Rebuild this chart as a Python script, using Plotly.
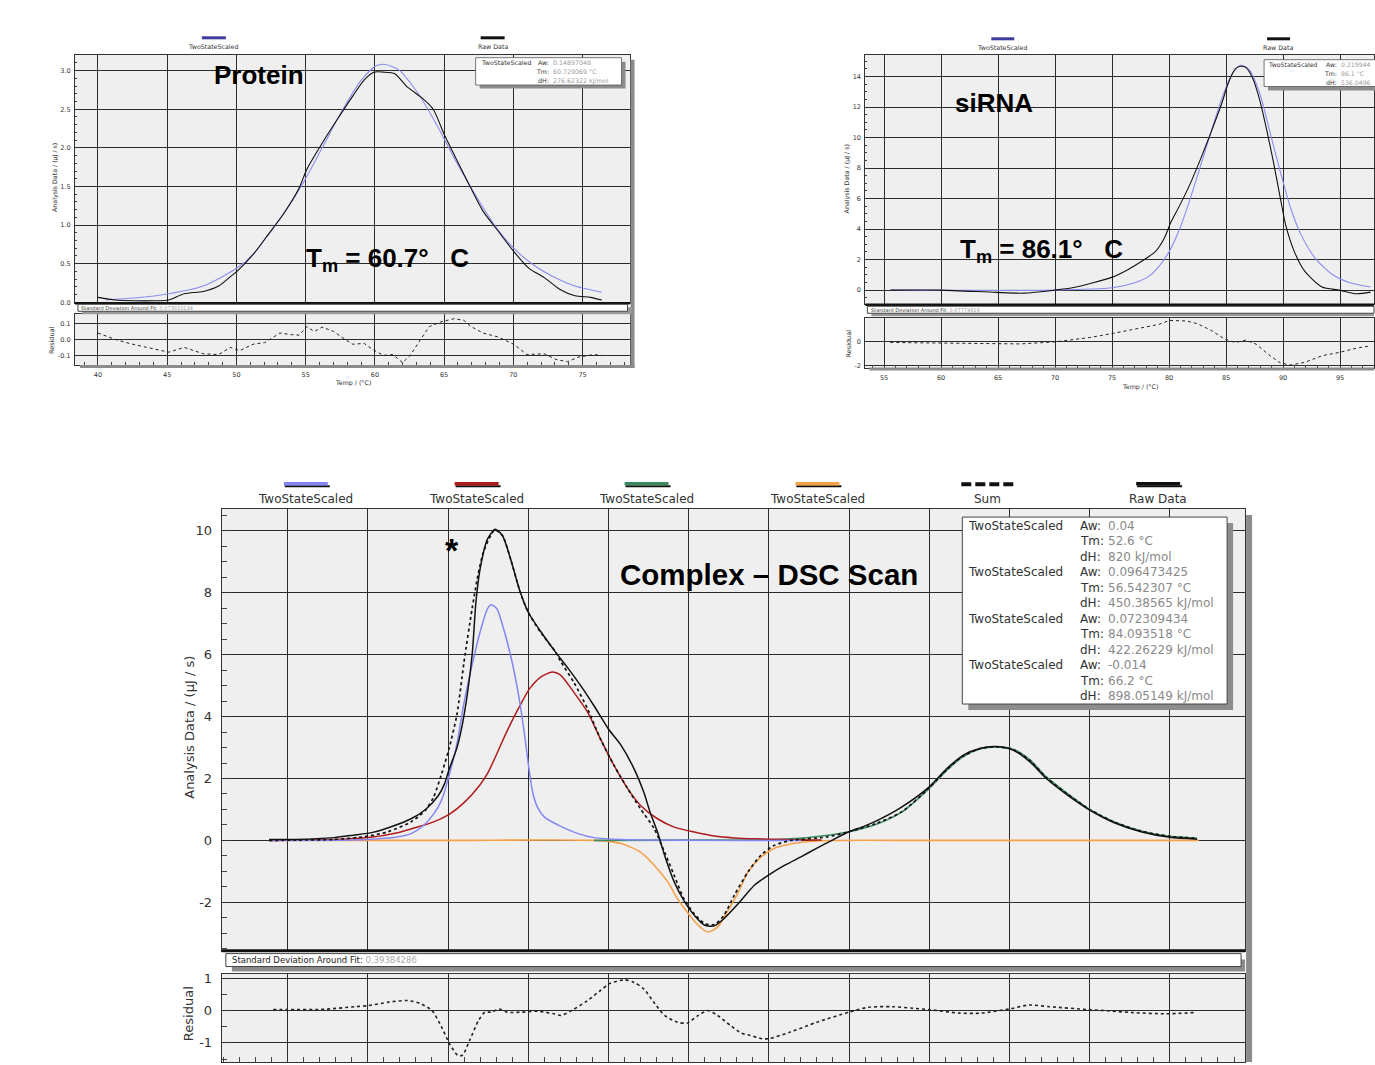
import plotly.graph_objects as go

W, H = 1375, 1065
def px(x): return x / W
def py(y): return 1 - y / H

SMALL = "DejaVu Sans, Verdana, sans-serif"
BIG = "Liberation Sans, Arial, sans-serif"
GRID = "#2b2b2b"
BG = "#efefef"
TXT = "#333333"
VAL = "#8a8a8a"

# ---------------- Protein ----------------
protein_raw_T = [40.0, 41.25, 42.63, 44.01, 45.12, 46.23, 47.61, 48.72, 49.55, 50.1, 51.21, 52.31, 53.42, 54.53,
                 55.08, 56.19, 57.29, 58.40, 59.23, 59.92, 60.61, 61.44, 62.27, 63.38, 64.21, 65.04, 65.87, 66.70,
                 67.81, 68.91, 70.02, 71.13, 72.23, 73.34, 74.45, 75.56, 76.39]
protein_raw_v = [0.064, 0.03, 0.02, 0.02, 0.03, 0.11, 0.14, 0.21, 0.33, 0.41, 0.62, 0.88, 1.15, 1.48,
                 1.72, 2.06, 2.37, 2.67, 2.88, 2.98, 2.98, 2.96, 2.80, 2.65, 2.50, 2.16, 1.86, 1.56,
                 1.18, 0.92, 0.66, 0.44, 0.32, 0.17, 0.085, 0.064, 0.03]
protein_fit_T = [40.55, 42.63, 45.12, 47.61, 50.10, 51.21, 52.31, 53.42, 54.80, 56.19, 57.57, 58.95, 60.06,
                 60.75, 61.72, 63.10, 64.49, 65.87, 67.26, 68.64, 70.02, 71.41, 72.79, 74.45, 76.39]
protein_fit_v = [0.03, 0.055, 0.11, 0.21, 0.45, 0.62, 0.88, 1.15, 1.54, 2.0, 2.46, 2.86, 3.06,
                 3.08, 3.01, 2.71, 2.29, 1.82, 1.39, 1.00, 0.70, 0.49, 0.34, 0.21, 0.13]
protein_res_T = [40.0, 41.25, 42.35, 44.01, 45.12, 46.23, 47.61, 48.72, 49.55, 50.24, 51.21, 52.04, 53.14,
                 53.97, 54.53, 55.08, 55.63, 56.19, 57.02, 57.85, 58.40, 59.23, 59.78, 60.61, 61.30, 62.0,
                 62.55, 63.38, 63.93, 64.76, 65.73, 66.42, 66.97, 67.81, 68.91, 70.02, 70.99, 72.23, 73.06,
                 73.89, 74.72, 75.83, 76.39]
protein_res_v = [0.04, 0.0, -0.027, -0.06, -0.08, -0.05, -0.09, -0.095, -0.05, -0.07, -0.03, -0.02, 0.04,
                 0.03, 0.027, 0.08, 0.05, 0.077, 0.05, 0.0, -0.03, -0.025, -0.06, -0.1, -0.095, -0.146,
                 -0.1, 0.01, 0.08, 0.11, 0.13, 0.12, 0.08, 0.04, 0.015, -0.03, -0.095, -0.09, -0.125,
                 -0.14, -0.11, -0.095, -0.1]
protein_params = ["TwoStateScaled", "0.14897048", "60.729069", "276.62322"]
protein_sd = "0.073010134"

# ---------------- siRNA ----------------
sirna_raw_T = [55.55, 59.96, 64.83, 67.26, 70.0, 71.52, 73.34, 75.02, 76.38, 77.60, 78.82, 79.58, 80.19,
               80.95, 81.86, 82.77, 83.68, 84.60, 85.21, 85.81, 86.27, 86.73, 87.33, 87.94, 88.55, 89.16,
               89.77, 90.23, 90.98, 91.90, 93.42, 94.94, 96.46, 97.68]
sirna_raw_v = [0, 0, -0.15, -0.2, 0, 0.15, 0.48, 0.85, 1.34, 1.89, 2.54, 3.4, 4.49,
               5.57, 6.98, 8.6, 10.34, 12.18, 13.59, 14.5, 14.67, 14.6, 13.9, 12.5, 10.55, 8.39,
               6.0, 4.27, 2.54, 1.24, 0.2, 0, -0.24, -0.13]
sirna_fit_T = [55.55, 70.0, 75.02, 77.0, 78.21, 79.12, 80.03, 80.95, 81.86, 82.77, 83.68, 84.60, 85.51,
               86.27, 87.03, 87.94, 88.86, 89.77, 90.68, 91.59, 92.81, 94.33, 95.85, 97.68]
sirna_fit_v = [0, 0, 0.15, 0.48, 0.9, 1.56, 2.54, 4.05, 6.0, 8.17, 10.34, 12.5, 14.13,
               14.74, 14.45, 12.94, 10.34, 7.74, 5.35, 3.62, 2.1, 1.02, 0.48, 0.2]
sirna_res_T = [55.55, 62.39, 66.95, 70.0, 73.04, 75.02, 77.60, 79.12, 80.03, 81.55, 82.47, 83.68, 84.90,
               85.81, 86.73, 87.64, 88.86, 89.77, 90.68, 91.90, 93.42, 94.94, 96.46, 97.68]
sirna_res_v = [-0.08, -0.14, -0.2, -0.03, 0.33, 0.66, 1.15, 1.42, 1.75, 1.7, 1.48, 0.93, 0.19,
               -0.08, 0.11, -0.22, -1.18, -1.78, -1.95, -1.73, -1.18, -0.9, -0.55, -0.36]
# values are cut at the right edge of the picture; only the visible digits are kept
sirna_params = ["TwoStateScaled", "0.219944", "86.1", "536.0496"]
sirna_sd = "0.07774619"

# ---------------- Complex ----------------
cx_raw_T = [38.85, 40.5, 42.9, 44.1, 45.3, 46.5, 47.7, 48.6, 49.4, 49.8, 50.07, 50.55, 51.0, 51.5, 51.74,
            52.0, 52.46, 52.94, 53.4, 53.9, 54.5, 55.0, 55.8, 56.75, 57.5, 58.27, 59.1, 60.0, 60.8, 61.6,
            62.2, 62.6, 63.06, 63.5, 64.1, 64.7, 65.35, 66.0, 66.6, 67.2, 68.1, 69.1, 70.1, 71.0, 72.0,
            73.0, 74.0, 75.0, 76.0, 76.9, 78.2, 80.0, 81.1, 82.1, 83.2, 84.2, 85.25, 86.3, 87.3, 88.6, 90.0,
            91.5, 93.2, 95.0, 96.7]
cx_raw_v = [0.03, 0.03, 0.09, 0.17, 0.26, 0.45, 0.7, 1.0, 1.45, 1.85, 2.3, 2.98, 4.05, 5.98, 7.7,
            8.77, 9.73, 10.05, 9.84, 9.09, 8.02, 7.37, 6.73, 6.05, 5.55, 5.0, 4.35, 3.6, 3.06, 2.31,
            1.56, 0.91, 0.27, -0.48, -1.34, -1.94, -2.42, -2.74, -2.76, -2.53, -2.04, -1.45, -1.08, -0.8, -0.53,
            -0.25, 0.02, 0.28, 0.47, 0.68, 1.05, 1.73, 2.32, 2.75, 2.98, 3.03, 2.91, 2.53, 2.0, 1.47, 0.98,
            0.58, 0.28, 0.1, 0.04]
cx_sum_T = [38.85, 40.5, 42.9, 44.8, 46.25, 47.7, 48.6, 49.1, 49.6, 50.07, 50.55, 51.0, 51.5, 51.86, 52.2,
            52.7, 52.94, 53.4, 53.9, 54.5, 55.0, 55.8, 56.75, 57.0, 57.85, 58.7, 59.5, 60.35, 61.2, 62.0,
            62.85, 63.5, 64.1, 64.7, 65.35, 66.0, 66.6, 67.2, 67.85, 68.7, 69.5, 70.35, 71.4, 73.6, 75.0,
            76.7, 78.3, 80.0, 81.1, 82.1, 83.2, 84.2, 85.25, 86.3, 87.3, 88.6, 90.0, 91.5, 93.2, 95.0, 96.7]
cx_sum_v = [0.0, 0.01, 0.03, 0.12, 0.28, 0.6, 0.98, 1.4, 2.15, 2.98, 4.05, 5.77, 7.48, 8.55, 9.3,
            9.89, 10.03, 9.84, 9.09, 8.02, 7.37, 6.7, 6.05, 5.8, 5.1, 4.25, 3.28, 2.42, 1.67, 1.02,
            0.38, -0.38, -1.13, -1.88, -2.37, -2.69, -2.72, -2.42, -1.77, -1.02, -0.48, -0.16, 0.0, 0.11, 0.28,
            0.55, 0.93, 1.7, 2.29, 2.72, 2.97, 3.02, 2.93, 2.57, 2.03, 1.5, 1.0, 0.6, 0.3, 0.13, 0.07]
cx_blue_T = [38.85, 44.0, 45.3, 46.7, 47.7, 48.4, 49.1, 49.6, 50.07, 50.55, 51.0, 51.5, 52.0, 52.46, 52.7,
             53.05, 53.4, 53.9, 54.4, 54.75, 55.05, 55.3, 55.6, 56.0, 57.0, 58.1, 59.1, 60.8, 72.0]
cx_blue_v = [0.0, 0.01, 0.04, 0.1, 0.22, 0.45, 0.85, 1.3, 2.1, 3.1, 4.45, 5.66, 6.73, 7.48, 7.61,
             7.48, 6.95, 5.98, 4.69, 3.5, 2.3, 1.5, 1.05, 0.76, 0.46, 0.22, 0.09, 0.03, 0.0]
cx_red_T = [38.85, 42.9, 45.3, 46.7, 48.2, 49.1, 50.1, 51.0, 52.0, 52.5, 53.0, 53.65, 54.4, 55.1, 55.8,
            56.5, 57.0, 57.85, 58.7, 59.5, 60.35, 61.2, 62.0, 63.06, 64.1, 65.35, 66.6, 67.85, 69.1, 73.3]
cx_red_v = [0.0, 0.03, 0.11, 0.23, 0.45, 0.6, 0.85, 1.22, 1.8, 2.2, 2.75, 3.5, 4.27, 4.91, 5.28,
            5.44, 5.35, 4.78, 4.14, 3.28, 2.42, 1.67, 1.13, 0.70, 0.43, 0.27, 0.14, 0.08, 0.05, 0.01]
cx_green_T = [59.1, 65.0, 70.5, 72.6, 75.0, 76.7, 78.3, 80.0, 81.1, 82.1, 83.2, 84.2, 85.25, 86.3, 87.3,
              88.6, 90.0, 91.5, 93.2, 95.0, 96.7]
cx_green_v = [0.0, 0.01, 0.03, 0.1, 0.28, 0.52, 0.92, 1.68, 2.27, 2.7, 2.96, 3.02, 2.94, 2.59, 2.05,
              1.52, 1.0, 0.6, 0.3, 0.13, 0.07]
cx_orange_T = [38.85, 50.0, 59.1, 60.8, 62.0, 62.85, 63.7, 64.3, 64.9, 65.6, 66.2, 66.8, 67.4, 68.1, 68.7,
               69.5, 70.35, 71.6, 73.3, 80.0, 96.8]
cx_orange_v = [0.0, 0.0, 0.0, -0.1, -0.38, -0.8, -1.34, -1.88, -2.31, -2.74, -2.96, -2.8, -2.31, -1.67, -1.02,
               -0.54, -0.25, -0.09, -0.01, 0.0, 0.0]
cx_res_T = [39.1, 40.0, 42.3, 44.2, 45.0, 46.3, 47.5, 48.3, 49.0, 49.6, 50.1, 50.6, 50.9, 51.35, 51.9, 52.3,
            52.7, 53.2, 53.7, 54.6, 55.6, 56.6, 57.05, 57.7, 58.7, 59.5, 60.1, 61.0, 61.6, 62.2, 62.9, 63.5,
            64.3, 64.9, 65.6, 66.2, 66.8, 67.6, 68.3, 68.7, 69.6, 70.0, 71.3, 73.0, 75.0, 76.2, 77.7, 79.0,
            80.0, 81.9, 83.2, 85.0, 86.2, 87.5, 89.9, 90.9, 92.6, 94.7, 96.65]
cx_res_v = [0.03, 0.03, 0.04, 0.12, 0.15, 0.26, 0.31, 0.21, 0.0, -0.51, -1.03, -1.38, -1.38, -0.92, -0.31, -0.05,
            -0.05, 0.05, -0.05, -0.05, -0.02, -0.1, -0.15, 0.0, 0.31, 0.62, 0.84, 0.95, 0.87, 0.67, 0.21, -0.15,
            -0.36, -0.39, -0.15, 0.0, -0.15, -0.46, -0.7, -0.75, -0.87, -0.87, -0.67, -0.36, -0.05, 0.1, 0.12, 0.07,
            0.03, -0.08, -0.08, 0.05, 0.17, 0.12, 0.03, 0.0, -0.06, -0.1, -0.06]
cx_fit_names = ["TwoStateScaled", "TwoStateScaled", "TwoStateScaled", "TwoStateScaled"]
cx_fit_aw = ["0.04", "0.096473425", "0.072309434", "-0.014"]
cx_fit_tm = ["52.6", "56.542307", "84.093518", "66.2"]
cx_fit_dh = ["820", "450.38565", "422.26229", "898.05149"]
cx_sd = "0.39384286"
cx_legend = ["TwoStateScaled", "TwoStateScaled", "TwoStateScaled", "TwoStateScaled", "Sum", "Raw Data"]

# tick labels (hyphen minus, as in the instrument software)
cx_main_ticks = [-2, 0, 2, 4, 6, 8, 10]
cx_res_ticks = [-1, 0, 1]
sirna_res_ticks = [-2, 0]
protein_res_ticks = [-0.1, 0.0, 0.1]

C_BLUE = "#8585f5"
C_RED = "#b01c1c"
C_GREEN = "#3d8a62"
C_ORANGE = "#f7a04a"

fig = go.Figure()

def add(T, v, xa, ya, color, width=1.3, dash=None, shape="spline"):
    fig.add_trace(go.Scatter(x=T, y=v, xaxis=xa, yaxis=ya, mode="lines",
                             line=dict(color=color, width=width, dash=dash, shape=shape, smoothing=0.7),
                             hoverinfo="skip", showlegend=False))

# protein
add(protein_fit_T, protein_fit_v, "x", "y", "#8c8cf2", 1.1)
add(protein_raw_T, protein_raw_v, "x", "y", "#111111", 1.1)
add(protein_res_T, protein_res_v, "x2", "y2", "#222222", 1.0, "dot", "linear")
# siRNA
add(sirna_fit_T, sirna_fit_v, "x3", "y3", "#8c8cf2", 1.1)
add(sirna_raw_T, sirna_raw_v, "x3", "y3", "#111111", 1.1)
add(sirna_res_T, sirna_res_v, "x4", "y4", "#222222", 1.0, "dot", "linear")
# complex
add(cx_orange_T, cx_orange_v, "x5", "y5", C_ORANGE, 1.6)
add(cx_green_T, cx_green_v, "x5", "y5", C_GREEN, 1.6)
add(cx_red_T, cx_red_v, "x5", "y5", C_RED, 1.5)
add(cx_blue_T, cx_blue_v, "x5", "y5", C_BLUE, 1.5)
add(cx_sum_T, cx_sum_v, "x5", "y5", "#111111", 1.7, "dot")
add(cx_raw_T, cx_raw_v, "x5", "y5", "#111111", 1.5)
add(cx_res_T, cx_res_v, "x6", "y6", "#222222", 1.6, "dot")


def xax(domain, rng, anchor, labels=False, size=6.5, minor=None, ticklen=0, standoff=2):
    d = dict(domain=domain, range=rng, anchor=anchor, showgrid=True, gridcolor=GRID, gridwidth=1.2,
             tick0=0, dtick=5, showline=True, linecolor="#333333", linewidth=1.2, mirror=True,
             zeroline=False, showticklabels=labels, tickfont=dict(size=size, color=TXT, family=SMALL),
             ticks="inside" if ticklen else "", ticklen=ticklen, tickcolor="#333333",
             ticklabelstandoff=standoff, fixedrange=True)
    if minor:
        d["minor"] = dict(dtick=minor, ticks="inside", ticklen=max(ticklen - 2, 2), tickcolor="#444444",
                          showgrid=False)
    return d


def yax(domain, rng, anchor, dtick, size=6.5, minor=None, ticklen=4, fmt=None, standoff=2, tickvals=None,
        ticktext=None):
    d = dict(domain=domain, range=rng, anchor=anchor, showgrid=True, gridcolor=GRID, gridwidth=1.2,
             tick0=0, dtick=dtick, showline=True, linecolor="#333333", linewidth=1.2, mirror=True,
             zeroline=False, tickfont=dict(size=size, color=TXT, family=SMALL),
             ticks="inside", ticklen=ticklen, tickcolor="#333333", ticklabelstandoff=standoff,
             fixedrange=True)
    if fmt:
        d["tickformat"] = fmt
    if tickvals is not None:
        d["tickvals"] = tickvals
        d["tickmode"] = "array"
        if ticktext is not None:
            d["ticktext"] = ticktext
    if minor:
        d["minor"] = dict(dtick=minor, ticks="inside", ticklen=max(ticklen - 2, 2), tickcolor="#444444",
                          showgrid=False)
    return d


prot_x = [px(75), px(630)]
sir_x = [px(866), 1.0]
cx_x = [px(222), px(1246)]

layout = dict(
    width=W, height=H, margin=dict(l=0, r=0, t=0, b=0, pad=0), paper_bgcolor="white", plot_bgcolor=BG,
    showlegend=False,
    xaxis=xax(prot_x, [38.34, 78.39], "y"),
    yaxis=yax([py(302), py(52)], [-0.013, 3.206], "x", 0.5, fmt=".1f", minor=0.1),
    xaxis2=xax(prot_x, [38.34, 78.39], "y2", labels=True, minor=1, ticklen=5, standoff=3),
    yaxis2=yax([py(364), py(313)], [-0.16, 0.158], "x2", 0.1, tickvals=protein_res_ticks,
               ticktext=["%.1f" % t for t in protein_res_ticks]),
    xaxis3=xax(sir_x, [53.36, 97.98], "y3"),
    yaxis3=yax([py(303), py(52)], [-0.93, 15.43], "x3", 2, minor=0.5),
    xaxis4=xax(sir_x, [53.36, 97.98], "y4", labels=True, minor=1, ticklen=5, standoff=3),
    yaxis4=yax([py(367), py(317)], [-2.19, 1.93], "x4", 2, tickvals=sirna_res_ticks,
               ticktext=[str(t) for t in sirna_res_ticks]),
    xaxis5=xax(cx_x, [35.9, 99.69], "y5"),
    yaxis5=yax([py(953), py(509)], [-3.56, 10.70], "x5", 2, size=13, minor=0.5, ticklen=7, standoff=6,
               tickvals=cx_main_ticks, ticktext=[str(t) for t in cx_main_ticks]),
    xaxis6=xax(cx_x, [35.9, 99.69], "y6", labels=False, minor=1, ticklen=7),
    yaxis6=yax([0.0, py(976.5)], [-1.59, 1.13], "x6", 1, size=13, minor=0.5, ticklen=7, standoff=6,
               tickvals=cx_res_ticks, ticktext=[str(t) for t in cx_res_ticks]),
)
fig.update_layout(**layout)

shapes = []
annotations = []

def rect(x0, y0, x1, y1, fill, line=None, lw=0):
    shapes.append(dict(type="rect", xref="paper", yref="paper", x0=px(x0), x1=px(x1), y0=py(y1), y1=py(y0),
                       fillcolor=fill, line=dict(color=line or fill, width=lw), layer="above"))

def hline(x0, x1, y, color, width, dash=None):
    shapes.append(dict(type="line", xref="paper", yref="paper", x0=px(x0), x1=px(x1), y0=py(y), y1=py(y),
                       line=dict(color=color, width=width, dash=dash), layer="above"))

def vline(x, y0, y1, color, width):
    shapes.append(dict(type="line", xref="paper", yref="paper", x0=px(x), x1=px(x), y0=py(y0), y1=py(y1),
                       line=dict(color=color, width=width), layer="above"))

def txt(x, y, s, size, color=TXT, family=SMALL, xanchor="center", yanchor="middle", angle=0):
    annotations.append(dict(x=px(x), y=py(y), xref="paper", yref="paper", text=s, showarrow=False,
                            font=dict(size=size, color=color, family=family), xanchor=xanchor,
                            yanchor=yanchor, textangle=angle, borderpad=0))

# ---------- protein decorations ----------
vline(633, 57, 366, "#8c8c8c", 4)
hline(80, 635, 365.5, "#8c8c8c", 3)
hline(75, 630, 302, "#111111", 2.5)
rect(82, 306, 632, 313, "#9a9a9a")
rect(78, 303, 628, 310, "white", "#444444", 1)
txt(80, 306.5, "Standard Deviation Around Fit: <span style='color:#999'>" + protein_sd + "</span>",
    5, xanchor="left")
hline(202, 226, 35, "#3c3c9c", 3)
hline(481, 505, 35, "#111111", 3)
txt(213, 44, "TwoStateScaled", 6.3)
txt(493, 44, "Raw Data", 6.3)
rect(480, 59, 626, 86, "#8c8c8c")
rect(476, 55, 622, 82.5, "white", "#555555", 0.8)
txt(480, 60, protein_params[0], 6.3, xanchor="left")
for i, (lab, val) in enumerate([("Aw:", protein_params[1]), ("Tm:", protein_params[2] + " °C"),
                                ("dH:", protein_params[3] + " kJ/mol")]):
    txt(550, 60 + 9.2 * i, lab, 6.3, xanchor="right")
    txt(552, 60 + 9.2 * i, val, 6.3, color="#9a9a9a", xanchor="left")
txt(55, 175, "Analysis Data / (µJ / s)", 6.3, angle=-90)
txt(52, 339, "Residual", 6.5, angle=-90)
txt(353, 382, "Temp / (°C)", 6.3)
txt(259, 72, "<b>Protein</b>", 26, color="#000000", family=BIG)
txt(305, 258, "<b>T<sub>m</sub> = 60.7°&nbsp;&nbsp;&nbsp;C</b>", 26, color="#000000", family=BIG,
    xanchor="left")

# ---------- siRNA decorations ----------
hline(870, 1375, 368, "#8c8c8c", 3)
hline(866, 1375, 303.5, "#111111", 2.5)
rect(872, 308, 1375, 315, "#9a9a9a")
rect(868, 305, 1375, 312, "white", "#444444", 1)
txt(871, 308.5, "Standard Deviation Around Fit: <span style='color:#999'>" + sirna_sd + "</span>",
    5, xanchor="left")
hline(992, 1015, 36, "#3c3c9c", 3)
hline(1268, 1291, 36, "#111111", 3)
txt(1003, 45, "TwoStateScaled", 6.3)
txt(1279, 45, "Raw Data", 6.3)
rect(1269, 61, 1380, 88, "#8c8c8c")
rect(1265, 57, 1380, 84, "white", "#555555", 0.8)
txt(1268, 61.5, sirna_params[0], 6.2, xanchor="left")
for i, (lab, val) in enumerate([("Aw:", sirna_params[1]), ("Tm:", sirna_params[2] + " °C"),
                                ("dH:", sirna_params[3])]):
    txt(1339, 61.5 + 9 * i, lab, 6.2, xanchor="right")
    txt(1341, 61.5 + 9 * i, val, 6.2, color="#9a9a9a", xanchor="left")
txt(848, 177, "Analysis Data / (µJ / s)", 6.3, angle=-90)
txt(850, 342, "Residual", 6.5, angle=-90)
txt(1141, 386, "Temp / (°C)", 6.3)
txt(995, 101, "<b>siRNA</b>", 26, color="#000000", family=BIG)
txt(960, 249, "<b>T<sub>m</sub> = 86.1°&nbsp;&nbsp;&nbsp;C</b>", 26, color="#000000", family=BIG,
    xanchor="left")

# ---------- complex decorations ----------
vline(1250, 515, 1065, "#8c8c8c", 6)
hline(222, 1246, 953, "#111111", 3)
rect(232, 962, 1246, 974, "#8c8c8c")
rect(226, 956, 1242, 969, "white", "#444444", 1)
txt(231, 962.5, "Standard Deviation Around Fit: <span style='color:#aaa'>" + cx_sd + "</span>",
    8.5, color="#222222", xanchor="left")

leg_x = [306, 477, 647, 818, 988, 1159]
leg_col = [C_BLUE, C_RED, C_GREEN, C_ORANGE, "#111111", "#111111"]
for i, (name, cx, col) in enumerate(zip(cx_legend, leg_x, leg_col)):
    if name == "Sum":
        hline(cx - 26, cx + 28, 484, "#111111", 4, dash="10px,4px")
    else:
        hline(cx - 21, cx + 24, 486, "#111111", 2)
        hline(cx - 22, cx + 22, 483.5, col, 3.5)
    txt(cx, 499, name, 12)

rect(969, 523, 1234, 711, "#8c8c8c")
rect(963, 517, 1228, 705, "white", "#444444", 1)
row_y0, row_dy = 526, 15.55
for i in range(4):
    base = row_y0 + 3 * i * row_dy
    txt(968, base, cx_fit_names[i], 12, xanchor="left")
    vals = [cx_fit_aw[i], cx_fit_tm[i] + " °C", cx_fit_dh[i] + " kJ/mol"]
    for j, lab in enumerate(["Aw:", "Tm:", "dH:"]):
        txt(1080, base + j * row_dy, lab, 12, xanchor="left")
        txt(1108, base + j * row_dy, vals[j], 12, color=VAL, xanchor="left")

txt(190, 728, "Analysis Data / (µJ / s)", 13, angle=-90)
txt(188, 1016, "Residual", 13, angle=-90)
txt(770, 575, "<b>Complex – DSC Scan</b>", 29.5, color="#000000", family=BIG)
txt(452, 550, "<b>*</b>", 34, color="#000000", family=BIG)

fig.update_layout(shapes=shapes, annotations=annotations)
fig.write_html("out.html", include_plotlyjs=True, config=dict(displayModeBar=False, responsive=False))
